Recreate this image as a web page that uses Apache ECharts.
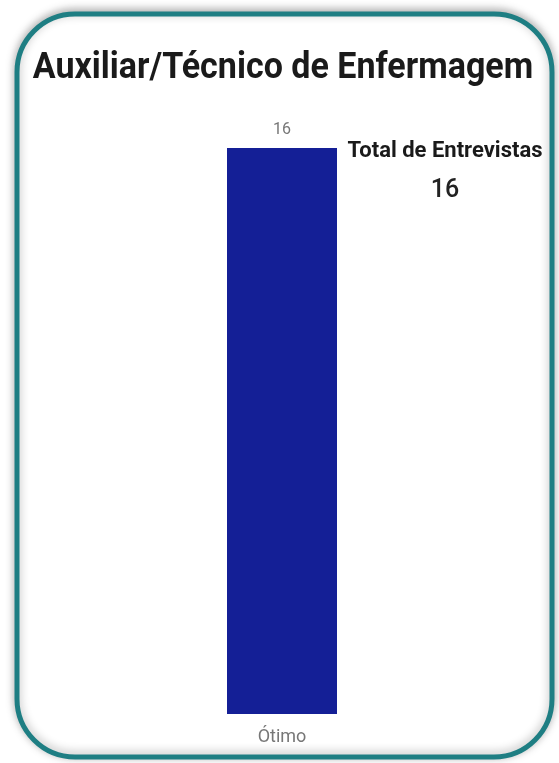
<!DOCTYPE html>
<html><head><meta charset="utf-8">
<script src="https://cdn.jsdelivr.net/npm/echarts@6/dist/echarts.min.js"></script>
<style>html,body{margin:0;padding:0;background:#fff}#c{width:559px;height:763px}</style>
</head><body><div id="c"></div>
<script>
const categories = ['Ótimo'];
const values = [16];
const chartTitle = 'Auxiliar/Técnico de Enfermagem';
const cardLabel = 'Total de Entrevistas';
const cardValue = '16';

const chart = echarts.init(document.getElementById('c'));
chart.setOption({
  animation: false,
  graphic: [{
    type: 'rect', z: -1,
    shape: {x: 17, y: 14, width: 535, height: 743, r: 58},
    style: {fill: '#fff', stroke: '#1e7e83', lineWidth: 5, shadowBlur: 10, shadowColor: 'rgba(0,0,0,0.3)', shadowOffsetX: 0, shadowOffsetY: -2}
  }, {
    type: 'text', x: 283, y: 69, scaleX: 0.92,
    style: {text: chartTitle, align: 'center', verticalAlign: 'middle',
      font: 'bold 37px Roboto', fill: '#1a1a1a'}
  }, {
    type: 'text', x: 445, y: 151,
    style: {text: cardLabel, align: 'center', verticalAlign: 'middle',
      font: 'bold 22px Roboto', fill: '#1a1a1a'}
  }, {
    type: 'text', x: 445, y: 191,
    style: {text: cardValue, align: 'center', verticalAlign: 'middle',
      font: '500 25px Roboto', fill: '#222'}
  }],
  grid: {left: 172, width: 220, top: 148, bottom: 49},
  xAxis: {type: 'category', data: categories,
    axisLine: {show: false}, axisTick: {show: false},
    axisLabel: {color: '#777', fontFamily: 'Roboto', fontSize: 18, margin: 14}},
  yAxis: {type: 'value', min: 0, max: 16, show: false, splitLine: {show: false}},
  series: [{type: 'bar', data: values, barWidth: 110,
    itemStyle: {color: '#141f96'},
    label: {show: true, position: 'top', distance: 10, color: '#777', fontFamily: 'Roboto', fontSize: 16}}]
});
</script></body></html>
